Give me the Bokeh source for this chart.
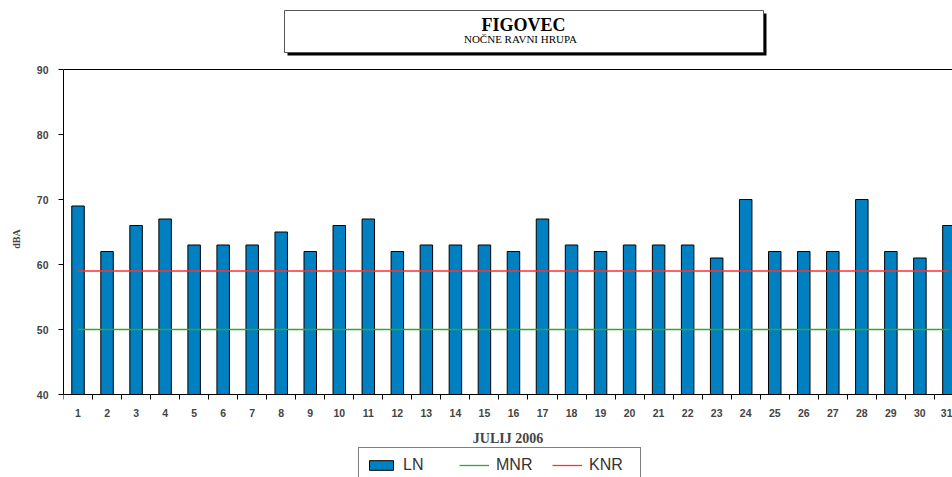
from bokeh.plotting import figure
from bokeh.models import Range1d, FixedTicker, Legend, LegendItem, Span
from bokeh.core.properties import value
from bokeh.embed import file_html
from bokeh.resources import INLINE

# ---- data ----
days = list(range(1, 32))
ln_values = [69, 62, 66, 67, 63, 63, 63, 65, 62, 66, 67, 62, 63, 63, 63, 62,
             67, 63, 62, 63, 63, 63, 61, 70, 62, 62, 62, 70, 62, 61, 66]
MNR_LEVEL = 50
KNR_LEVEL = 59
mnr_values = [MNR_LEVEL] * len(days)
knr_values = [KNR_LEVEL] * len(days)
y_ticks = [40, 50, 60, 70, 80, 90]
Y_MIN, Y_MAX = 40, 90
title_main = "FIGOVEC"
title_sub = "NOČNE RAVNI HRUPA"
x_label = "JULIJ 2006"
y_label = "dBA"

# ---- layout helpers (page pixels -> data units) ----
W, H = 952, 477
FRAME_LEFT_PX = 63.0
PX_PER_DAY = 29.03
TOP_PX = 69.0           # page y of Y_MAX
PX_PER_DBA = 6.5


def dx(px):
    return 0.5 + (px - FRAME_LEFT_PX) / PX_PER_DAY


def dy(py):
    return Y_MAX - (py - TOP_PX) / PX_PER_DBA


p = figure(width=W, height=H, output_backend="svg", toolbar_location=None,
           x_range=Range1d(0.5, dx(W)), y_range=Range1d(dy(H), dy(0)),
           min_border_left=int(FRAME_LEFT_PX), min_border_top=0,
           min_border_right=0, min_border_bottom=0)
p.outline_line_color = None
p.xgrid.grid_line_color = None
p.ygrid.grid_line_color = None

bars = p.vbar(x=days, top=ln_values, bottom=Y_MIN, width=0.43,
              fill_color="#0080C0", line_color="#000000", line_width=1)
mnr = p.line(days, mnr_values, line_color="#2EAA2E", line_width=1.3)
knr = p.line(days, knr_values, line_color="#FF3030", line_width=1.3)

# top border of the plot area
p.add_layout(Span(location=Y_MAX, dimension="width", line_color="#000000",
                  line_width=1))

# ---- title box (shadow + box + text) ----
p.quad(left=[dx(287)], right=[dx(766)], top=[dy(13)], bottom=[dy(55)],
       fill_color="#000000", line_color=None)
p.quad(left=[dx(284)], right=[dx(763)], top=[dy(10)], bottom=[dy(52)],
       fill_color="#FFFFFF", line_color="#555555", line_width=1)
p.text(x=[dx(523)], y=[dy(24)], text=[title_main], text_align="center",
       text_baseline="middle", text_font=value("Liberation Serif"),
       text_font_style="bold", text_font_size="18px", text_color="#000000")
p.text(x=[dx(520)], y=[dy(38)], text=[title_sub], text_align="center",
       text_baseline="middle", text_font=value("Liberation Serif"),
       text_font_size="11px", text_color="#000000")

# ---- axes ----
p.xaxis.fixed_location = Y_MIN
p.xaxis.ticker = FixedTicker(ticks=days, minor_ticks=[d - 0.5 for d in days])
p.xaxis.major_tick_line_color = None
p.xaxis.minor_tick_out = 5
p.xaxis.minor_tick_in = 0
p.xaxis.minor_tick_line_color = "#000000"
p.xaxis.axis_line_color = "#000000"
p.xaxis.major_label_text_font = "Liberation Sans"
p.xaxis.major_label_text_font_style = "bold"
p.xaxis.major_label_text_font_size = "10.5px"
p.xaxis.major_label_standoff = 8
p.xaxis.axis_label = x_label
p.xaxis.axis_label_text_font = "Liberation Serif"
p.xaxis.axis_label_text_font_style = "bold"
p.xaxis.axis_label_text_font_size = "14px"
p.xaxis.axis_label_standoff = 11

p.yaxis.bounds = (Y_MIN, Y_MAX)
p.yaxis.ticker = FixedTicker(ticks=y_ticks)
p.yaxis.minor_tick_line_color = None
p.yaxis.major_tick_out = 5
p.yaxis.major_tick_in = 0
p.yaxis.major_label_text_font = "Liberation Sans"
p.yaxis.major_label_text_font_style = "bold"
p.yaxis.major_label_text_font_size = "10.5px"
p.yaxis.major_label_standoff = 10
p.yaxis.axis_label = y_label
p.yaxis.axis_label_text_font = "Liberation Serif"
p.yaxis.axis_label_text_font_style = "bold"
p.yaxis.axis_label_text_font_size = "10px"
p.yaxis.axis_label_standoff = 12

legend = Legend(items=[LegendItem(label="LN", renderers=[bars]),
                       LegendItem(label="MNR", renderers=[mnr]),
                       LegendItem(label="KNR", renderers=[knr])],
                orientation="horizontal", location=(int(358 - FRAME_LEFT_PX), -6),
                border_line_color="#000000", border_line_width=1,
                label_text_font="Liberation Sans", label_text_font_size="16px",
                label_text_color="#333333",
                label_standoff=7, glyph_width=30, glyph_height=12,
                label_height=20, label_width=44, spacing=12, padding=7, margin=0)
p.add_layout(legend, "center")

open("out.html", "w").write(file_html(p, INLINE))
